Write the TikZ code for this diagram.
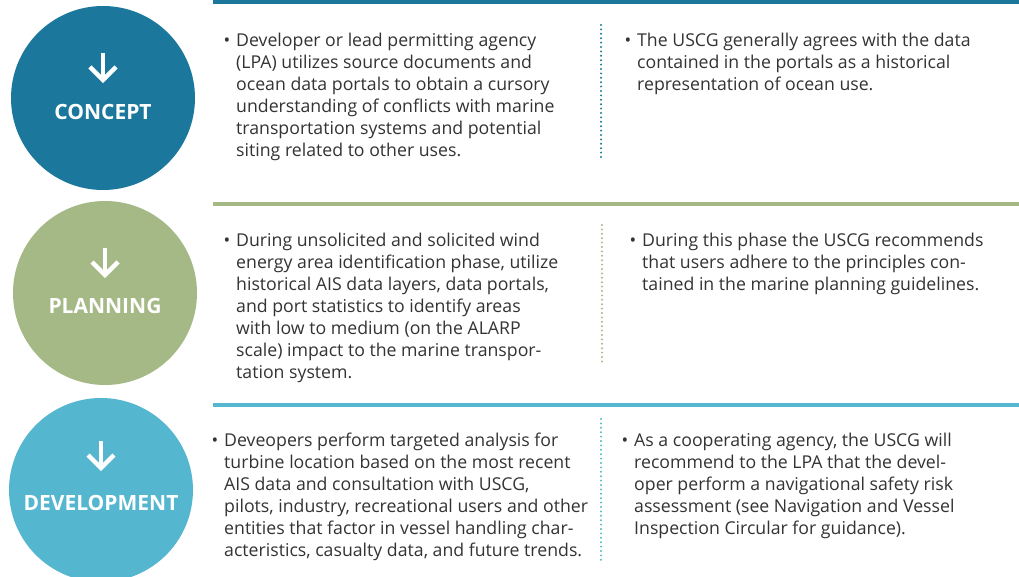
\documentclass[tikz,border=0pt]{standalone}
\usepackage{fontspec}
\setmainfont{Open Sans}
\usepackage{tikz}
\usetikzlibrary{positioning}
\usepackage{xcolor}
\definecolor{conceptblue}{HTML}{1B789C}
\definecolor{planninggreen}{HTML}{A4B985}
\definecolor{devblue}{HTML}{55B6D0}
\definecolor{textgray}{HTML}{333333}

\begin{document}
\begin{tikzpicture}[x=1pt, y=-1pt,
    phase/.style={circle, fill=#1, minimum size=184pt, inner sep=0pt},
    phasename/.style={text=white, inner sep=0pt, font=\fontsize{21}{24}\selectfont\bfseries},
    downarrow/.style={white, line width=4.5pt, line join=miter},
    item/.style={anchor=north west, align=left, inner sep=0pt, text=textgray, font=\fontsize{17.7}{22}\selectfont},
    rowrule/.style={#1, line width=4pt},
    colsep/.style={#1, line width=2.2pt, line cap=round, dash pattern=on 0pt off 4.4pt}]

        \useasboundingbox (0,0) rectangle (1019,577);

        % Phase circles
        \node[phase=conceptblue] (concept) at (103,98) {};
        \node[phase=planninggreen] (planning) at (105,293) {};
        \node[phase=devblue] (development) at (101,490) {};

        % Phase names and arrows
        \node[phasename] (conceptname) at (103,112) {CONCEPT};
        \node[phasename] (planningname) at (105,306) {PLANNING};
        \node[phasename] (developmentname) at (101,503) {DEVELOPMENT};
        \draw[downarrow] (103,53) -- (103,80);
        \draw[downarrow] (90,67) -- (103,80) -- (116,67);
        \draw[downarrow] (105,248) -- (105,275);
        \draw[downarrow] (92,262) -- (105,275) -- (118,262);
        \draw[downarrow] (101,441) -- (101,468);
        \draw[downarrow] (88,455) -- (101,468) -- (114,455);

        % Row rules
        \coordinate (r1a) at (213,2);   \coordinate (r1b) at (1019,2);
        \coordinate (r2a) at (213,204); \coordinate (r2b) at (1019,204);
        \coordinate (r3a) at (213,405); \coordinate (r3b) at (1019,405);
        \draw[rowrule=conceptblue] (r1a) -- (r1b);
        \draw[rowrule=planninggreen] (r2a) -- (r2b);
        \draw[rowrule=devblue] (r3a) -- (r3b);

        % Dotted column separators
        \coordinate (s1a) at (601,25);  \coordinate (s1b) at (601,159);
        \coordinate (s2a) at (602,225); \coordinate (s2b) at (602,362);
        \coordinate (s3a) at (601,419); \coordinate (s3b) at (601,562);
        \draw[colsep=conceptblue] (s1a) -- (s1b);
        \draw[colsep=planninggreen] (s2a) -- (s2b);
        \draw[colsep=devblue] (s3a) -- (s3b);

        % Bullet texts
        \node[item] (conceptlpa) at (236,33) {\llap{\textbullet\hspace{6pt}}Developer or lead permitting agency\\
            (LPA) utilizes source documents and\\
            ocean data portals to obtain a cursory\\
            understanding of conflicts with marine\\
            transportation systems and potential\\
            siting related to other uses.};
        \node[item] (conceptuscg) at (637,33) {\llap{\textbullet\hspace{6pt}}The USCG generally agrees with the data\\
            contained in the portals as a historical\\
            representation of ocean use.};
        \node[item] (planninglpa) at (236,233) {\llap{\textbullet\hspace{6pt}}During unsolicited and solicited wind\\
            energy area identification phase, utilize\\
            historical AIS data layers, data portals,\\
            and port statistics to identify areas\\
            with low to medium (on the ALARP\\
            scale) impact to the marine transpor-\\
            tation system.};
        \node[item] (planninguscg) at (642,233) {\llap{\textbullet\hspace{6pt}}During this phase the USCG recommends\\
            that users adhere to the principles con-\\
            tained in the marine planning guidelines.};
        \node[item] (devlpa) at (224,433) {\llap{\textbullet\hspace{6pt}}Deveopers perform targeted analysis for\\
            turbine location based on the most recent\\
            AIS data and consultation with USCG,\\
            pilots, industry, recreational users and other\\
            entities that factor in vessel handling char-\\
            acteristics, casualty data, and future trends.};
        \node[item] (devuscg) at (634,433) {\llap{\textbullet\hspace{6pt}}As a cooperating agency, the USCG will\\
            recommend to the LPA that the devel-\\
            oper perform a navigational safety risk\\
            assessment (see Navigation and Vessel\\
            Inspection Circular for guidance).};
    \end{tikzpicture}
\end{document}
